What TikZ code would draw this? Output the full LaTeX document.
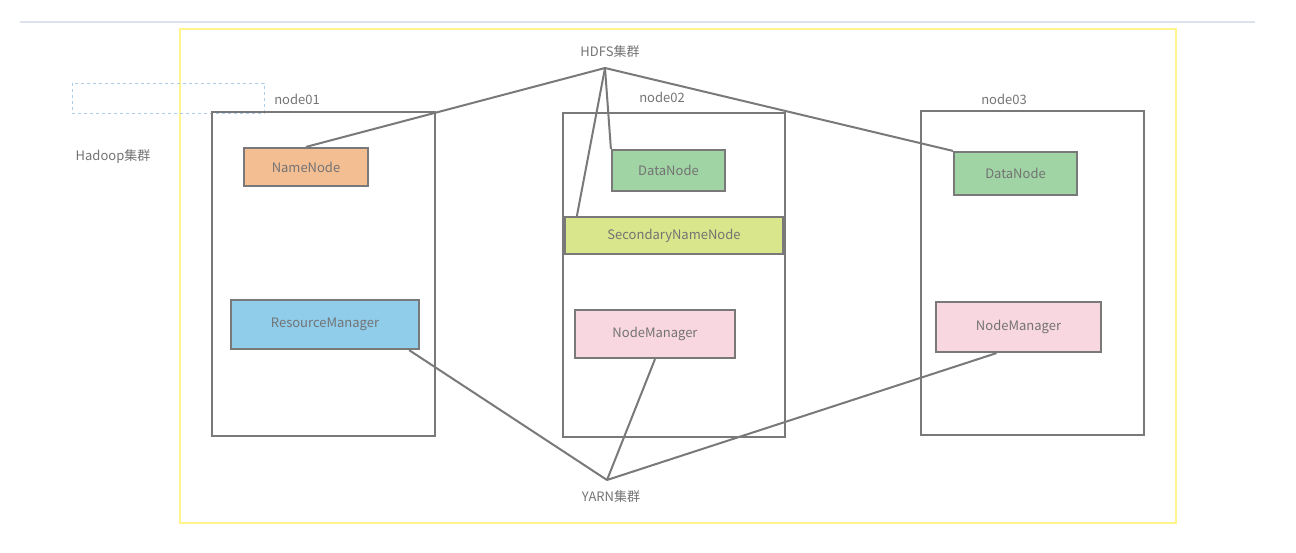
\documentclass[tikz,border=0pt]{standalone}
\usepackage{fontspec}
\setmainfont{Noto Sans CJK SC}
\begin{document}
\begin{tikzpicture}[x=1pt,y=-1pt,
  frame/.style={draw=gray!95!black,line width=2.2pt},
  comp/.style={draw=gray!95!black,line width=2.2pt,text=gray!90!black,font=\fontsize{13}{15}\selectfont},
  lbl/.style={text=gray!90!black,font=\fontsize{13}{15}\selectfont},
  link/.style={draw=gray!95!black,line width=2pt}]
\useasboundingbox (0,0) rectangle (1296,552);
\draw[color={rgb,255:red,220;green,226;blue,236},line width=1.2pt] (20,22) -- (1255,22);
\draw[color={rgb,255:red,255;green,245;blue,140},line width=2.2pt] (180,29) rectangle (1176,523);
\draw[color={rgb,255:red,170;green,205;blue,235},dashed,line width=0.6pt] (72,83) rectangle (264,113);
\node[lbl] (hadoop) at (113,157) {Hadoop集群};
\draw[frame] (212,112) rectangle (435,436);
\draw[frame] (563,113) rectangle (785,437);
\draw[frame] (921,111) rectangle (1144,435);
\node[lbl] (n1) at (297,99) {node01};
\node[lbl] (n2) at (662,97) {node02};
\node[lbl] (n3) at (1004,99) {node03};
\node[lbl] (hdfs) at (610,52) {HDFS集群};
\node[lbl] (yarn) at (611,497) {YARN集群};
\coordinate (hh) at (605,68);
\coordinate (yh) at (607,480);
\node[comp,fill={rgb,255:red,244;green,190;blue,147},minimum width=124pt,minimum height=38pt] (nn) at (306,167) {NameNode};
\node[comp,fill={rgb,255:red,160;green,212;blue,164},minimum width=113pt,minimum height=41pt] (dn2) at (668.5,170.5) {DataNode};
\node[comp,fill={rgb,255:red,160;green,212;blue,164},minimum width=123pt,minimum height=43pt] (dn3) at (1015.5,173.5) {DataNode};
\node[comp,fill={rgb,255:red,217;green,230;blue,139},minimum width=218pt,minimum height=37pt] (snn) at (674,235.5) {SecondaryNameNode};
\node[comp,fill={rgb,255:red,143;green,205;blue,235},minimum width=188pt,minimum height=49pt] (rm) at (325,324.5) {ResourceManager};
\node[comp,fill={rgb,255:red,248;green,215;blue,224},minimum width=160pt,minimum height=48pt] (nm2) at (655,334) {NodeManager};
\node[comp,fill={rgb,255:red,248;green,215;blue,224},minimum width=165pt,minimum height=50pt] (nm3) at (1018.5,327) {NodeManager};
\draw[link] (hh) -- (nn.north);
\draw[link] (hh) -- (dn2.north west);
\draw[link] (hh) -- ([xshift=13pt]snn.north west);
\draw[link] (hh) -- (dn3.north west);
\draw[link] (yh) -- ([xshift=-11pt]rm.south east);
\draw[link] (yh) -- (nm2.south);
\draw[link] (yh) -- ([xshift=-22pt]nm3.south);
\end{tikzpicture}
\end{document}
